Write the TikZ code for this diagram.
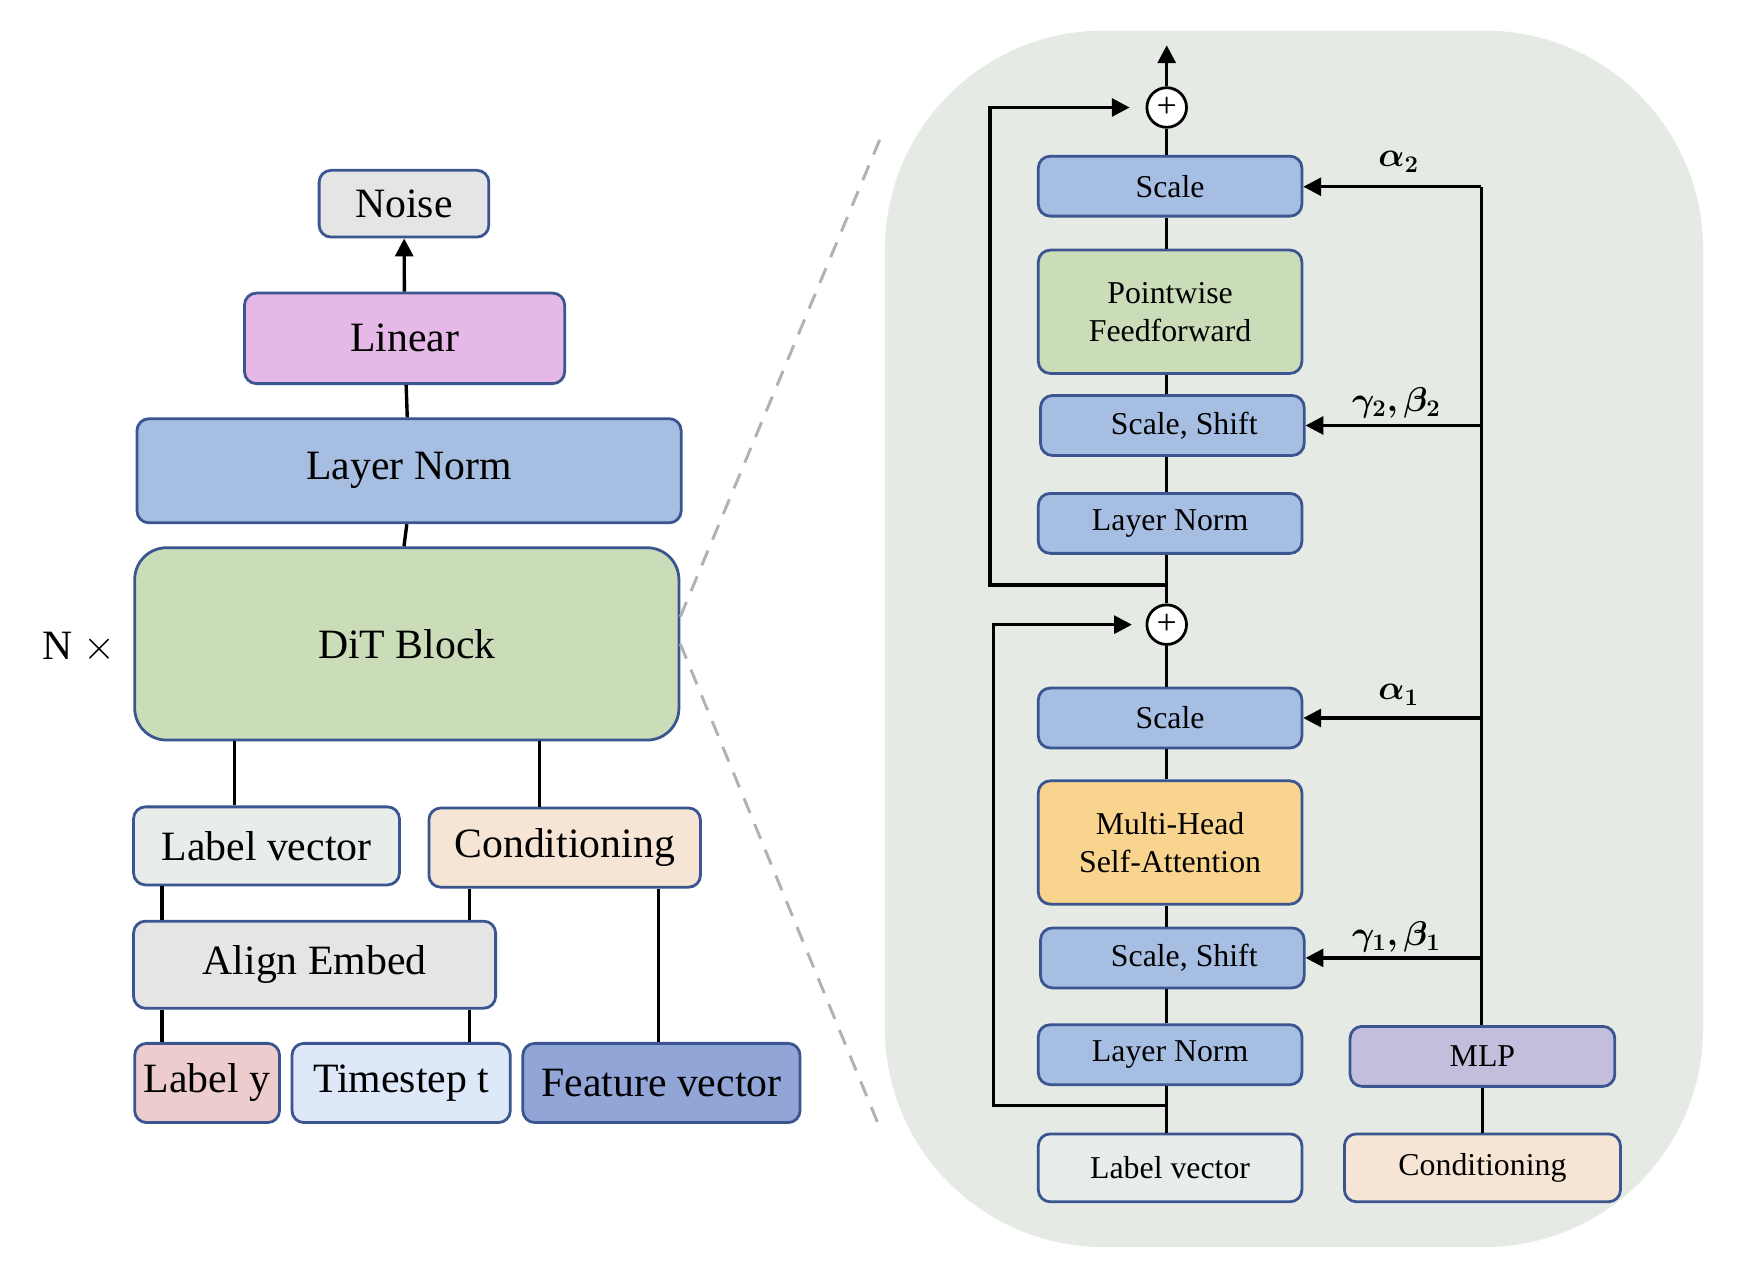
\documentclass[tikz,border=0pt]{standalone}
\usepackage{fontspec}
\usepackage{amsmath,bm}
\setmainfont{Liberation Serif}
\usetikzlibrary{arrows.meta,calc}
\definecolor{edgeblue}{HTML}{3A5590}
\definecolor{panelbg}{HTML}{E5EBE4}
\begin{document}
\begin{tikzpicture}[x=0.02cm,y=-0.02cm,%
    box/.style={draw=edgeblue, line width=1.4pt, rounded corners=6pt, align=center,
                inner sep=0pt, font=\fontsize{21}{24}\selectfont},
    sbox/.style={box, font=\fontsize{16}{19}\selectfont},
    wire/.style={line width=1.7pt, draw=black},
    arr/.style={wire, -{Triangle[length=9pt,width=9pt]}},
    plusnode/.style={draw, circle, line width=1.4pt, fill=white, minimum size=0.7cm,
                     inner sep=0pt, font=\fontsize{18}{18}\selectfont},
    lbl/.style={font=\fontsize{18}{20}\selectfont}
  ]
  \useasboundingbox (0,0) rectangle (1550,1115);

  % left column
  \node[box, fill=black!10, minimum width=3cm, minimum height=1.18cm] (noise) at (357,180) {Noise};
  \node[box, fill={rgb,255:red,230;green,184;blue,232}, minimum width=5.66cm, minimum height=1.6cm] (linear) at (357.5,299) {Linear};
  \node[box, fill={rgb,255:red,167;green,190;blue,227}, minimum width=9.62cm, minimum height=1.84cm] (norm) at (361.5,416) {Layer Norm};
  \node[box, fill={rgb,255:red,202;green,221;blue,184}, rounded corners=16pt, minimum width=9.62cm, minimum height=3.4cm] (dit) at (359.5,569) {DiT Block};
  \node[font=\fontsize{21}{24}\selectfont] (nx) at (70,572) {N $\times$};
  \node[box, fill={rgb,255:red,232;green,237;blue,233}, minimum width=4.7cm, minimum height=1.38cm] (labvec) at (235.5,747.5) {Label vector};
  \node[box, fill={rgb,255:red,246;green,229;blue,213}, minimum width=4.8cm, minimum height=1.4cm] (cond) at (499,749) {Conditioning};
  \node[box, fill=black!10, minimum width=6.4cm, minimum height=1.54cm] (align) at (278,852.5) {Align Embed};
  \node[box, fill={rgb,255:red,236;green,204;blue,204}, minimum width=2.56cm, minimum height=1.4cm] (laby) at (183,957) {Label y};
  \node[box, fill={rgb,255:red,221;green,232;blue,248}, minimum width=3.86cm, minimum height=1.4cm] (tstep) at (354.5,957) {Timestep t};
  \node[box, fill={rgb,255:red,145;green,166;blue,214}, minimum width=4.9cm, minimum height=1.4cm] (feat) at (584.5,957) {Feature vector};

  \draw[arr] (linear) -- (noise);
  \draw[wire] (norm) -- (linear);
  \draw[wire] (dit.north -| norm.north) ++(-4.5,0) -- (norm.south -| dit.north) ++(-4.5,0);
  \draw[wire] (labvec.north -| 207,0) -- (dit.south -| 207,0);
  \draw[wire] (cond.north -| 477,0) -- (dit.south -| 477,0);
  \draw[wire] (align.north -| 143,0) -- (labvec.south -| 143,0);
  \draw[wire] (align.north -| 415,0) -- (cond.south -| 415,0);
  \draw[wire] (laby.north -| 143,0) -- (align.south -| 143,0);
  \draw[wire] (tstep.north -| 415,0) -- (align.south -| 415,0);
  \draw[wire] (feat.north -| 582,0) -- (cond.south -| 582,0);

  % zoom panel
  \fill[panelbg, rounded corners=110pt] (782,27) rectangle (1505,1102);
  \coordinate (ztop) at (778,122);
  \coordinate (zbot) at (778,998);
  \draw[black!30, line width=1.5pt, dash pattern=on 8pt off 6pt] ($(dit.east)+(0,-24)$) -- (ztop);
  \draw[black!30, line width=1.5pt, dash pattern=on 8pt off 6pt] (dit.east) -- (zbot);

  \tikzset{sblue/.style={sbox, fill={rgb,255:red,167;green,190;blue,227}, minimum width=4.66cm, minimum height=1.06cm}}
  \node[sblue] (scaleB) at (1034,164.5) {Scale};
  \node[sbox, fill={rgb,255:red,202;green,221;blue,184}, minimum width=4.66cm, minimum height=2.18cm] (ffn) at (1034,275.5) {Pointwise\\Feedforward};
  \node[sblue] (ssB) at (1036,376) {\hspace*{12pt}Scale, Shift};
  \node[sblue] (normB) at (1034,462.5) {Layer Norm};
  \node[sblue] (scaleA) at (1034,634.5) {Scale};
  \node[sbox, fill={rgb,255:red,248;green,212;blue,142}, minimum width=4.66cm, minimum height=2.18cm] (attn) at (1034,744.5) {Multi-Head\\Self-Attention};
  \node[sblue] (ssA) at (1036,846.5) {\hspace*{12pt}Scale, Shift};
  \node[sblue] (normA) at (1034,932) {Layer Norm};
  \node[sbox, fill={rgb,255:red,232;green,237;blue,233}, minimum width=4.66cm, minimum height=1.2cm] (lvR) at (1034,1032) {\raisebox{-6pt}{Label vector}};
  \node[sbox, fill={rgb,255:red,194;green,190;blue,220}, minimum width=4.68cm, minimum height=1.06cm] (mlp) at (1310,933.5) {MLP};
  \node[sbox, fill={rgb,255:red,246;green,229;blue,213}, minimum width=4.88cm, minimum height=1.2cm] (condR) at (1310,1032) {\raisebox{-6pt}{Conditioning}};
  \node[plusnode] (plusB) at (1031,95) {+};
  \node[plusnode] (plusA) at (1031,552) {+};
  \coordinate (out) at (1031,40);
  \coordinate (resB) at (875,517);
  \coordinate (resA) at (878,977);
  \coordinate (tap) at (1309,165);

  % main path
  \draw[wire] (lvR.north -| plusA) -- (normA.south -| plusA)
              (normA.north -| plusA) -- (ssA.south -| plusA)
              (ssA.north -| plusA) -- (attn.south -| plusA)
              (attn.north -| plusA) -- (scaleA.south -| plusA)
              (scaleA.north -| plusA) -- (plusA.south)
              (plusA.north) -- (normB.south -| plusA)
              (normB.north -| plusA) -- (ssB.south -| plusA)
              (ssB.north -| plusA) -- (ffn.south -| plusA)
              (ffn.north -| plusA) -- (scaleB.south -| plusA)
              (scaleB.north -| plusA) -- (plusB.south);
  \draw[arr] (plusB.north) -- (out);
  % residuals
  \draw[arr] (resA -| plusA) -- (resA) |- ($(plusA.west)+(-12,0)$);
  \draw[arr] (resB -| plusA) -- (resB) |- ($(plusB.west)+(-14,0)$);
  % modulation
  \draw[wire] (mlp.south) -- (condR.north);
  \draw[wire] (mlp.north -| tap) -- (tap);
  \draw[arr] (tap) -- (scaleB.east |- tap);
  \draw[arr] (ssB.east -| tap) -- (ssB.east);
  \draw[arr] (scaleA.east -| tap) -- (scaleA.east);
  \draw[arr] (ssA.east -| tap) -- (ssA.east);
  \node[lbl] (la2) at (1236,143) {$\bm{\alpha_2}$};
  \node[lbl] (lg2) at (1234,356) {$\bm{\gamma_2,\beta_2}$};
  \node[lbl] (la1) at (1236,614) {$\bm{\alpha_1}$};
  \node[lbl] (lg1) at (1234,828) {$\bm{\gamma_1,\beta_1}$};
\end{tikzpicture}
\end{document}
